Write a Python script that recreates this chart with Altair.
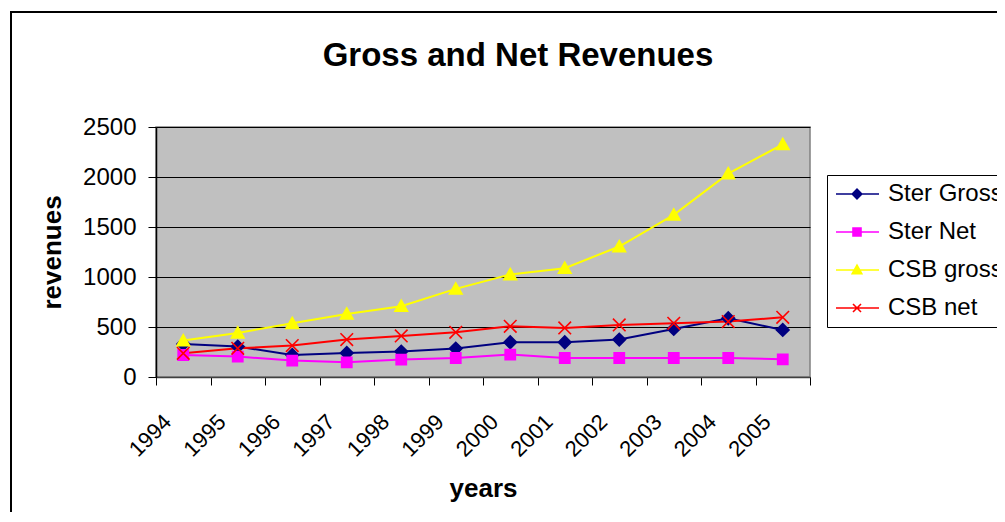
import altair as alt
import pandas as pd

years = ["1994", "1995", "1996", "1997", "1998", "1999", "2000", "2001", "2002", "2003", "2004", "2005"]
series_names = ["Ster Gross", "Ster Net", "CSB gross", "CSB net"]
ster_gross = [330, 304, 220, 240, 254, 284, 347, 347, 374, 481, 587, 471]
ster_net = [220, 204, 164, 147, 174, 190, 224, 190, 190, 190, 190, 177]
csb_gross = [364, 441, 537, 631, 708, 881, 1025, 1088, 1305, 1622, 2033, 2327]
csb_net = [237, 287, 314, 374, 411, 447, 507, 491, 521, 537, 554, 597]
y_ticks = [0, 500, 1000, 1500, 2000, 2500]
chart_title = "Gross and Net Revenues"

colors = ["#000080", "#FF00FF", "#FFFF00", "#FF0000"]
marker_paths = [
    "M-1.05,0L0,-1.05L1.05,0L0,1.05Z",
    "M-0.85,-0.85L0.85,-0.85L0.85,0.85L-0.85,0.85Z",
    "M0,-1L1.05,0.85L-1.05,0.85Z",
    "M-1.05,-1.05L1.05,1.05M-1.05,1.05L1.05,-1.05",
]
legend_paths = [
    "M-1,0L3.3,0M0.62,0L1.1,-0.48L1.58,0L1.1,0.48Z",
    "M-1,0L3.3,0M0.7,-0.4L1.5,-0.4L1.5,0.4L0.7,0.4Z",
    "M-1,0L3.3,0M1.1,-0.48L1.58,0.38L0.62,0.38Z",
    "M-1,0L3.3,0M0.7,-0.4L1.5,0.4M0.7,0.4L1.5,-0.4",
]

rows = []
for name, vals in zip(series_names, [ster_gross, ster_net, csb_gross, csb_net]):
    for yr, v in zip(years, vals):
        rows.append({"series": name, "year": yr, "value": v})
df = pd.DataFrame(rows)

FONT = "Liberation Sans"

x_enc = alt.X(
    "year:O",
    sort=years,
    scale=alt.Scale(type="band", paddingInner=0, paddingOuter=0),
    axis=alt.Axis(
        title="years",
        titleFont=FONT,
        titleFontSize=26,
        titleFontWeight="bold",
        titleColor="black",
        titleX=327,
        titleY=111,
        titleBaseline="middle",
        titleAlign="center",
        labelFont=FONT,
        labelFontSize=22,
        labelColor="black",
        labelAngle=-45,
        labelAlign="right",
        labelBaseline="middle",
        labelPadding=33,
        labelOffset=-16,
        tickBand="extent",
        tickSize=8,
        tickColor="black",
        domainColor="#404040",
        domainWidth=1.5,
        grid=False,
    ),
)
y_enc = alt.Y(
    "value:Q",
    scale=alt.Scale(domain=[0, 2500], nice=False),
    axis=alt.Axis(
        title="revenues",
        titleFont=FONT,
        titleFontSize=26,
        titleFontWeight="bold",
        titleColor="black",
        titleX=-104,
        titleY=125,
        titleAngle=-90,
        titleBaseline="middle",
        titleAlign="center",
        values=y_ticks,
        format="d",
        labelFont=FONT,
        labelFontSize=24,
        labelColor="black",
        labelPadding=12,
        tickSize=8,
        tickColor="black",
        domainColor="black",
        domainWidth=1.5,
        grid=True,
        gridColor="#000000",
        gridWidth=1,
    ),
)

color_scale = alt.Scale(domain=series_names, range=colors)

lines = alt.Chart(df).mark_line(strokeWidth=2).encode(
    x=x_enc,
    y=y_enc,
    color=alt.Color("series:N", scale=color_scale, legend=None),
    detail="series:N",
)

points = alt.Chart(df).mark_point(filled=True, size=144, strokeWidth=1.6, opacity=1).encode(
    x=x_enc,
    y=y_enc,
    color=alt.Color("series:N", scale=color_scale, legend=None),
    stroke=alt.Stroke("series:N", scale=color_scale, legend=None),
    shape=alt.Shape("series:N", scale=alt.Scale(domain=series_names, range=marker_paths), legend=None),
)

legend_spec = dict(
    title=None,
    orient="none",
    legendX=671,
    legendY=48,
    fillColor="white",
    strokeColor="black",
    padding=7,
    labelFont=FONT,
    labelFontSize=24,
    labelColor="black",
    labelOffset=30,
    symbolSize=400,
    symbolStrokeWidth=1.6,
    symbolOpacity=1,
    rowPadding=14,
)

legend_layer = alt.Chart(df).mark_point(filled=True, size=10, opacity=0).encode(
    x=x_enc,
    y=y_enc,
    color=alt.Color("series:N", scale=color_scale, legend=alt.Legend(**legend_spec)),
    stroke=alt.Stroke("series:N", scale=color_scale, legend=alt.Legend(**legend_spec)),
    shape=alt.Shape("series:N", scale=alt.Scale(domain=series_names, range=legend_paths),
                    legend=alt.Legend(**legend_spec)),
)

one = pd.DataFrame({"a": [0]})

frame = alt.Chart(one).mark_rect(
    fill=None, stroke="black", strokeWidth=2
).encode(
    x=alt.value(-145), y=alt.value(-115), x2=alt.value(1200), y2=alt.value(800)
)

title_mark = alt.Chart(one).mark_text(
    font=FONT, fontSize=33, fontWeight="bold", color="black",
    align="center", baseline="alphabetic",
).encode(
    x=alt.value(362), y=alt.value(-61), text=alt.value(chart_title)
)

chart = alt.layer(frame, lines, points, legend_layer, title_mark).resolve_scale(
    color="independent", stroke="independent", shape="independent"
).properties(
    width=654,
    height=250,
    padding={"left": 148, "top": 119, "right": 187, "bottom": 135},
    autosize=alt.AutoSizeParams(type="none"),
    background="white",
).configure_view(
    fill="#C0C0C0",
    stroke="#808080",
    strokeWidth=1.5,
)

chart.save("out.html", embed_options={"renderer": "svg", "actions": False})
